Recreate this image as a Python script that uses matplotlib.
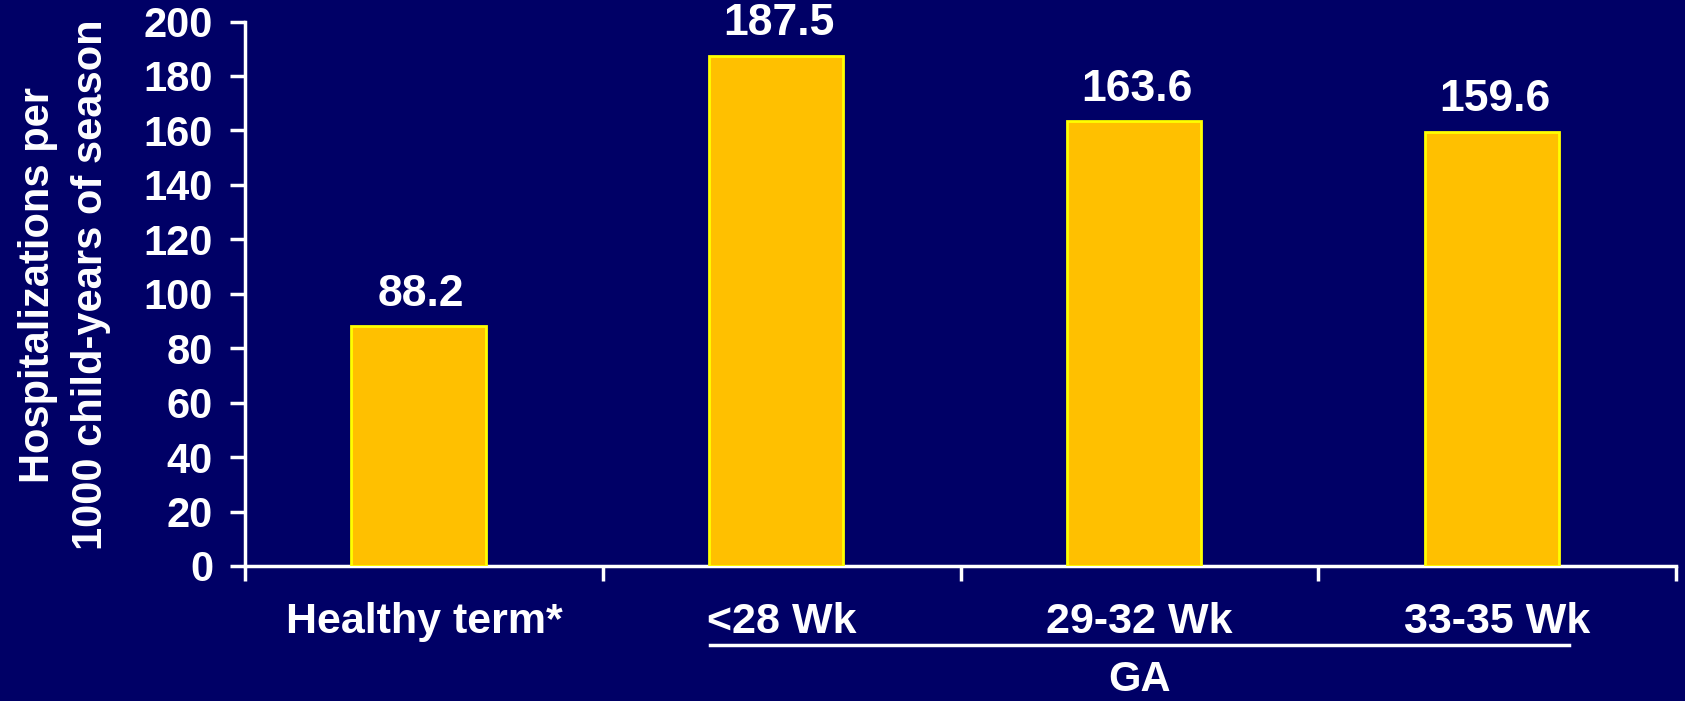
import matplotlib.pyplot as plt
from matplotlib.transforms import blended_transform_factory

# data
categories = ["Healthy term*", "<28 Wk", "29-32 Wk", "33-35 Wk"]
values = [88.2, 187.5, 163.6, 159.6]
value_labels = ["88.2", "187.5", "163.6", "159.6"]
y_ticks = [0, 20, 40, 60, 80, 100, 120, 140, 160, 180, 200]

bg = "#000066"
bar_fill = "#FFC000"
bar_edge = "#FFFF00"

plt.rcParams["font.family"] = ["Liberation Sans", "DejaVu Sans"]
plt.rcParams["font.weight"] = "bold"

fig = plt.figure(figsize=(16.85, 7.01), dpi=100, facecolor=bg)
ax = fig.add_axes([0.1454, 0.1926, 0.8493, 0.7767], facecolor=bg)

x = list(range(len(categories)))
bar_x = [xi - 0.015 for xi in x]
ax.bar(bar_x, values, width=0.375, color=bar_fill, edgecolor=bar_edge, linewidth=2, zorder=3)

for xi, v, lab in zip(bar_x, values, value_labels):
    ax.annotate(lab, (xi, v), xytext=(2, 8), textcoords="offset points",
                ha="center", va="bottom", color="white", fontsize=32, fontweight="bold")

ax.set_xlim(-0.5, 3.5)
ax.set_ylim(0, 200)
ax.set_yticks(y_ticks)
ax.set_yticklabels([str(t) for t in y_ticks], fontsize=30, fontweight="bold", color="white")

# ticks on category boundaries, labels in the middle
ax.set_xticks([-0.5, 0.5, 1.5, 2.5, 3.5])
ax.set_xticklabels([])
ax.set_xticks(x, minor=True)
ax.set_xticklabels(categories, minor=True, fontsize=31, fontweight="bold", color="white")
ax.tick_params(axis="x", which="minor", length=0, pad=26)
ax.tick_params(axis="x", which="major", direction="out", length=11, width=2.5, color="white")
ax.tick_params(axis="y", direction="out", length=11, width=2.5, color="white", pad=12)

for s in ["top", "right"]:
    ax.spines[s].set_visible(False)
for s in ["left", "bottom"]:
    ax.spines[s].set_color("white")
    ax.spines[s].set_linewidth(2.5)

# GA bracket line under the preterm groups
tr = blended_transform_factory(ax.transData, ax.transAxes)
ax.plot([0.8, 3.2], [-0.145, -0.145], color="white", linewidth=2.5, transform=tr, clip_on=False)
ax.text(2.0, -0.21, "GA", transform=tr, ha="center", va="center",
        color="white", fontsize=30, fontweight="bold")

fig.text(0.0223, 0.594, "Hospitalizations per", rotation=90, ha="center", va="center",
         color="white", fontsize=30, fontweight="bold")
fig.text(0.054, 0.594, "1000 child-years of season", rotation=90, ha="center", va="center",
         color="white", fontsize=30, fontweight="bold")

fig.savefig("out.png", dpi=100, facecolor=bg)
